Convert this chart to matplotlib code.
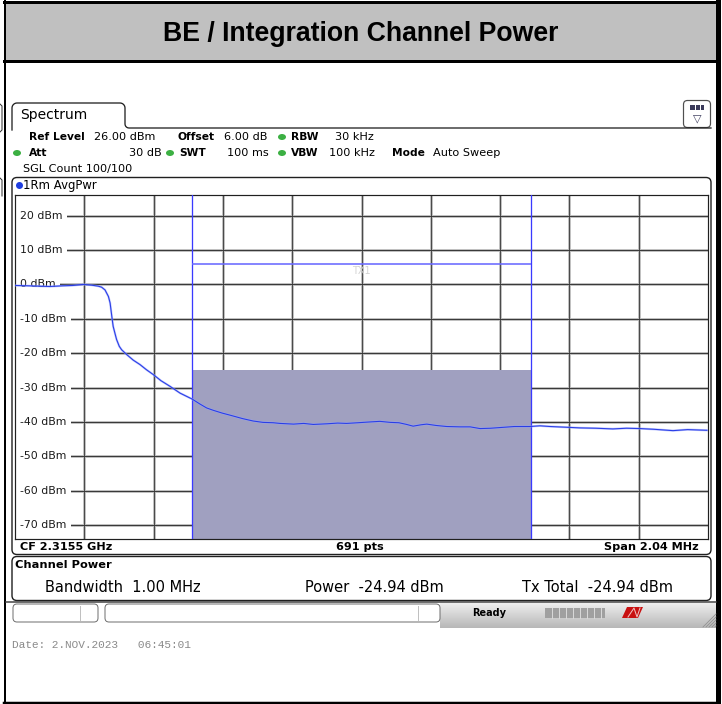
import matplotlib
matplotlib.use('Agg')
import matplotlib.pyplot as plt
from matplotlib.patches import FancyBboxPatch, Rectangle, Ellipse, Polygon
import matplotlib.transforms as mtransforms
import numpy as np

W, H = 722, 704

# ---------------- data ----------------
center_ghz = 2.3155
span_mhz = 2.04
ref_level_dbm = 26.0
bottom_dbm = -74.0
channel_bw_mhz = 1.00
channel_power_dbm = -24.94
tx_line_dbm = 6.0
n_points = 691

freq_offset_mhz = [-1.020, -0.980, -0.950, -0.917, -0.880, -0.850, -0.819, -0.795,
                   -0.775, -0.765, -0.755, -0.745, -0.740, -0.735, -0.731, -0.725,
                   -0.721, -0.713, -0.706, -0.691, -0.672, -0.652, -0.633, -0.613,
                   -0.590, -0.564, -0.534, -0.499, -0.475, -0.456, -0.436, -0.410,
                   -0.387, -0.350, -0.319, -0.290, -0.260, -0.240, -0.200, -0.170,
                   -0.142, -0.100, -0.070, -0.044, -0.010, 0.020, 0.054, 0.085,
                   0.110, 0.133, 0.152, 0.175, 0.192, 0.220, 0.251, 0.290,
                   0.320, 0.349, 0.380, 0.408, 0.450, 0.496, 0.525, 0.555,
                   0.600, 0.643, 0.690, 0.740, 0.780, 0.820, 0.860, 0.917,
                   0.960, 1.017]
trace_dbm = [-0.3, -0.4, -0.5, -0.6, -0.4, -0.3, 0.0, -0.2,
             -0.5, -0.8, -1.6, -3.5, -5.4, -9.3, -12.2, -14.5,
             -16.0, -18.0, -19.0, -20.4, -22.0, -23.3, -24.8, -26.2,
             -28.0, -29.6, -31.6, -33.3, -34.8, -35.9, -36.6, -37.4,
             -38.0, -39.0, -39.7, -40.1, -40.2, -40.4, -40.6, -40.4,
             -40.7, -40.5, -40.3, -40.4, -40.2, -40.0, -39.8, -40.1,
             -40.2, -40.7, -41.2, -40.8, -40.6, -41.0, -41.3, -41.4,
             -41.4, -41.9, -41.8, -41.6, -41.3, -41.3, -41.1, -41.3,
             -41.5, -41.7, -41.8, -42.0, -41.8, -41.9, -42.1, -42.5,
             -42.2, -42.4]

ytick_values = [20, 10, 0, -10, -20, -30, -40, -50, -60, -70]
ytick_labels = ["20 dBm", "10 dBm", "0 dBm", "-10 dBm", "-20 dBm",
                "-30 dBm", "-40 dBm", "-50 dBm", "-60 dBm", "-70 dBm"]
xgrid_offsets_mhz = [-0.816, -0.612, -0.408, -0.204, 0.0, 0.204, 0.408, 0.612, 0.816]

title = "BE / Integration Channel Power"

FONT = 'DejaVu Sans'
plt.rcParams['font.family'] = [FONT]

fig = plt.figure(figsize=(W / 100, H / 100), dpi=100)
fig.patch.set_facecolor('white')

# overlay axes in pixel coordinates
ov = fig.add_axes([0, 0, 1, 1], zorder=0)
ov.set_xlim(0, W)
ov.set_ylim(H, 0)
ov.axis('off')

def px(v):
    return v * 0.72

# ---- outer frame + title band ----
ov.add_patch(Rectangle((5, 2), 712, 58, facecolor='#c0c0c0', edgecolor='none'))
ov.plot([4, 719], [1.5, 1.5], color='black', lw=px(3))
ov.plot([4, 719], [60.5, 60.5], color='black', lw=px(3))
ov.plot([5, 5], [0, 704], color='black', lw=px(2))
ov.plot([717.5, 717.5], [0, 704], color='black', lw=px(5))
ov.plot([4, 719], [702.5, 702.5], color='black', lw=px(2.5))
ov.text(361, 34, title, ha='center', va='center', fontsize=19.2,
        fontweight='bold', family='Liberation Sans', color='black')

# small fragments at very left edge
ov.plot([0, 2, 2, 0], [104, 106, 130, 132], color='#303030', lw=px(1))
ov.plot([0, 2, 2], [178, 180, 196], color='#303030', lw=px(1))

# ---- Spectrum tab ----
r = 5
def arc(cx, cy, a0, a1, n=8):
    tt = np.linspace(np.radians(a0), np.radians(a1), n)
    return cx + r * np.cos(tt), cy - r * np.sin(tt)
xs, ys = [12], [130]
ax_, ay_ = arc(12 + r, 103 + r, 180, 90); xs += list(ax_); ys += list(ay_)
ax_, ay_ = arc(125 - r, 103 + r, 90, 0); xs += list(ax_); ys += list(ay_)
xs += [125]; ys += [124]
ang = np.linspace(np.pi, 1.5 * np.pi, 6)
xs += list(129 + 4 * np.cos(ang)); ys += list(124 - 4 * np.sin(ang))
xs += [711]; ys += [128]
ov.plot(xs, ys, color='#202020', lw=px(1.3), solid_joinstyle='round')
ov.text(20, 115.5, "Spectrum", ha='left', va='center', fontsize=10, color='black')

# icon top right
ov.add_patch(FancyBboxPatch((683.5, 100.5), 27, 27, boxstyle='round,pad=0,rounding_size=4',
                            facecolor='white', edgecolor='#505050', lw=px(1.2)))
ov.add_patch(Rectangle((690, 105), 14, 5, facecolor='#3a3a5a', edgecolor='none'))
for xx in [694.5, 699.5]:
    ov.plot([xx, xx], [105, 110], color='white', lw=px(1))
ov.text(697, 118, "\u25BD", ha='center', va='center', fontsize=8, color='#404060')

# ---- setting rows ----
fs_n = 8.1
fs_b = 7.7
def t(x, y, s, bold=False, ha='left'):
    ov.text(x, y, s, ha=ha, va='center', fontsize=fs_b if bold else fs_n,
            fontweight='bold' if bold else 'normal', color='black')
def dot(x, y, c='#3cb043'):
    ov.add_patch(Ellipse((x, y), 8, 6, facecolor=c, edgecolor='none'))

t(29, 137, "Ref Level", True); t(94, 137, "26.00 dBm")
t(178, 137, "Offset", True); t(224, 137, "6.00 dB")
dot(282, 137); t(291, 137, "RBW", True); t(335, 137, "30 kHz")
dot(17, 153); t(29, 153, "Att", True); t(162, 153, "30 dB", ha='right')
dot(170, 153); t(179, 153, "SWT", True); t(227, 153, "100 ms")
dot(282, 153); t(291, 153, "VBW", True); t(329, 153, "100 kHz")
t(392, 153, "Mode", True); t(433, 153, "Auto Sweep")
t(23, 169, "SGL Count 100/100")

# ---- plot frame ----
ov.add_patch(FancyBboxPatch((12, 177.5), 699, 377, boxstyle='round,pad=0,rounding_size=5',
                            facecolor='none', edgecolor='#202020', lw=px(1.4)))
ov.add_patch(Ellipse((19.5, 185.5), 7, 7, facecolor='#1f3ee0', edgecolor='none'))
ov.text(23, 185.5, "1Rm AvgPwr", ha='left', va='center', fontsize=8.4, color='black')
ov.text(20, 547, f"CF {center_ghz:.4f} GHz", ha='left', va='center', fontsize=8.1,
        fontweight='bold')
ov.text(360, 547, f"{n_points} pts", ha='center', va='center', fontsize=8.1, fontweight='bold')
ov.text(699, 547, f"Span {span_mhz:.2f} MHz", ha='right', va='center', fontsize=8.1,
        fontweight='bold')

# ---- channel power box ----
ov.add_patch(FancyBboxPatch((12, 556.5), 699, 44, boxstyle='round,pad=0,rounding_size=5',
                            facecolor='none', edgecolor='#202020', lw=px(1.4)))
ov.text(15, 565, "Channel Power", ha='left', va='center', fontsize=8.2, fontweight='bold')
ov.text(45, 588, f"Bandwidth  {channel_bw_mhz:.2f} MHz", ha='left', va='center', fontsize=10.5)
ov.text(305, 588, f"Power  {channel_power_dbm:.2f} dBm", ha='left', va='center', fontsize=10.5)
ov.text(522, 588, f"Tx Total  {channel_power_dbm:.2f} dBm", ha='left', va='center', fontsize=10.5)

# ---- status bar ----
ov.plot([6, 716], [602, 602], color='#404040', lw=px(1.5))
grad = np.linspace(0.93, 0.72, 30).reshape(-1, 1)
ov.imshow(grad, extent=(440, 716, 628, 603), cmap='gray', vmin=0, vmax=1,
          aspect='auto', zorder=1)
ov.set_xlim(0, W); ov.set_ylim(H, 0)
ov.add_patch(FancyBboxPatch((13, 604), 85, 18, boxstyle='round,pad=0,rounding_size=4',
                            facecolor='white', edgecolor='#707070', lw=px(1)))
ov.plot([80, 80], [606, 620], color='#c0c0c0', lw=px(1))
ov.add_patch(FancyBboxPatch((105, 604), 335, 18, boxstyle='round,pad=0,rounding_size=4',
                            facecolor='white', edgecolor='#707070', lw=px(1)))
ov.plot([418, 418], [606, 620], color='#c0c0c0', lw=px(1))
ov.text(489, 613, "Ready", ha='center', va='center', fontsize=7, fontweight='bold', zorder=3)
ov.add_patch(Rectangle((545, 608), 60, 10, facecolor='#a0a0a0', edgecolor='none', zorder=3))
for xx in np.arange(552, 605, 7):
    ov.plot([xx, xx], [608, 618], color='#d8d8d8', lw=px(1), zorder=4)
ov.add_patch(Polygon([[622, 618], [627, 607], [643, 607], [638, 618]], closed=True,
                     facecolor='#c81010', edgecolor='none', zorder=3))
ov.plot([628, 634, 637, 640], [617, 608, 617, 608], color='#f0c0c0', lw=px(1), zorder=4)
for k in range(5):
    ov.plot([703 + 3 * k, 716], [627, 627 - (13 - 3 * k)], color='#909090', lw=px(0.8), zorder=3)

# date
ov.text(12, 645, "Date: 2.NOV.2023   06:45:01", ha='left', va='center', fontsize=8.0,
        family='Liberation Mono', color='#8a8a8a')

# ---------------- main spectrum axes ----------------
L, R, T, B = 15, 708, 195, 539
ax = fig.add_axes([L / W, 1 - B / H, (R - L) / W, (B - T) / H], zorder=2)
ax.set_facecolor('white')
half_span = span_mhz / 2
ax.set_xlim(-half_span, half_span)
ax.set_ylim(bottom_dbm, ref_level_dbm)
ax.set_xticks([]); ax.set_yticks([])
for s in ax.spines.values():
    s.set_color('#202020'); s.set_linewidth(px(1.2))

# grid: light halo + dark core
for xv in xgrid_offsets_mhz:
    ax.axvline(xv, color='#c8c8c8', lw=px(3), zorder=1)
    ax.axvline(xv, color='#4a4a4a', lw=px(1.1), zorder=1.1)
for yv in ytick_values:
    ax.axhline(yv, color='#c8c8c8', lw=px(3), zorder=1)
    ax.axhline(yv, color='#3a3a3a', lw=px(1.1), zorder=1.1)

# channel power fill
half_bw = channel_bw_mhz / 2
ax.fill_between([-half_bw, half_bw], [channel_power_dbm] * 2, [bottom_dbm] * 2,
                color='#a0a0c0', lw=0, zorder=2)
ax.axvline(-half_bw, color='#3a3aff', lw=px(1.3), zorder=3)
ax.axvline(half_bw, color='#3a3aff', lw=px(1.3), zorder=3)
ax.hlines(tx_line_dbm, -half_bw, half_bw, color='#6a6aff', lw=px(1.6), zorder=3)
ax.text(0, tx_line_dbm - 2.2, "TX1", ha='center', va='center', fontsize=7,
        color='#d4d4d4', zorder=3)

# y labels inside plot
trans = mtransforms.blended_transform_factory(ax.transAxes, ax.transData)
for yv, lab in zip(ytick_values, ytick_labels):
    ax.text(0.0075, yv, lab, transform=trans, ha='left', va='center', fontsize=7.8,
            color='#1a1a1a', zorder=2.5,
            bbox=dict(facecolor='white', edgecolor='none', pad=3.3))

# trace
ax.plot(freq_offset_mhz, trace_dbm, color='#9aa6ff', lw=px(2.2), zorder=4, alpha=0.6)
ax.plot(freq_offset_mhz, trace_dbm, color='#2a3ee6', lw=px(1.1), zorder=5)

fig.savefig('out.png', dpi=100, facecolor='white')
